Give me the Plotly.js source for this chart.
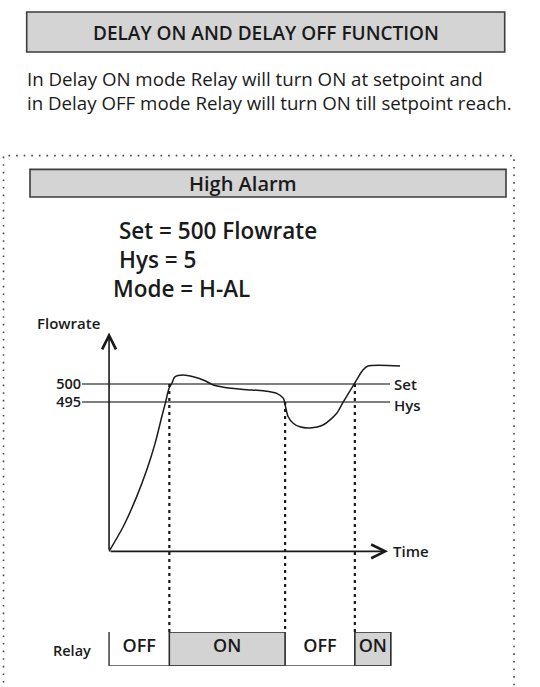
<!DOCTYPE html>
<html>
<head>
<meta charset="utf-8">
<script src="https://cdn.plot.ly/plotly-3.0.1.min.js"></script>
<style>
  html, body { margin: 0; padding: 0; background: #ffffff; }
  #chart { width: 540px; height: 687px; }
</style>
</head>
<body>
<div id="chart"></div>
<script>
// ---------------- data ----------------
const setpoint = 500;
const hysteresis = 5;
const tickValues = [500, 495];
const tickLabels = ['500', '495'];
const lineLabels = ['Set', 'Hys'];

// process value (flowrate) over time (arbitrary time units)
const curveTime = [0, 5.1, 9.9, 13.5, 16.5, 18.9, 20.3, 21.5, 22.5, 23.6, 26.6, 30.2, 34.4, 37.4, 41.0, 48.2, 55.3, 60.1, 62.5, 63.1, 64.2, 66.0, 68.4, 72.0, 76.7, 81.6, 83.8, 88.1, 91.0, 92.8, 104.3];
const curveFlow = [453.5, 460.4, 468.7, 476.1, 483.5, 490.9, 495.1, 498.8, 500.2, 502.0, 502.5, 502.0, 500.9, 499.7, 499.1, 498.5, 498.1, 497.4, 496.0, 494.2, 490.9, 489.1, 488.1, 487.8, 488.6, 491.9, 494.8, 500.3, 503.9, 505.0, 505.0];

// relay switching moments and states
const switchTimes = [21.6, 63.1, 88.1];
const switchLevels = [500, 495, 500];
const relayStart = [0, 21.6, 63.1, 88.1];
const relayEnd = [21.6, 63.1, 88.1, 101.0];
const relayStates = ['OFF', 'ON', 'OFF', 'ON'];

// ---------------- styling / geometry ----------------
const W = 540, H = 687;
const FONT = '"Open Sans", Roboto, "Liberation Sans", Arial, sans-serif';
const INK = '#1a1a1a';
const px = v => v / W;
const py = v => 1 - v / H;

const xRange = [-9.7, 105];
const yRange = [431.1, 515];
const originFlow = curveFlow[0];
const axisEndTime = 100;
const lineEndTime = 100.7;

const traces = [];

// Set and Hys lines
[setpoint, setpoint - hysteresis].forEach(v => {
  traces.push({
    type: 'scatter', mode: 'lines', xaxis: 'x', yaxis: 'y',
    x: [xRange[0], lineEndTime], y: [v, v],
    line: { color: '#555555', width: 1.6 }, hoverinfo: 'skip', showlegend: false
  });
});

// dotted switching lines
switchTimes.forEach((t, i) => {
  traces.push({
    type: 'scatter', mode: 'lines', xaxis: 'x', yaxis: 'y',
    x: [t, t], y: [switchLevels[i], yRange[0]],
    line: { color: INK, width: 2.2, dash: '3px,4px' }, hoverinfo: 'skip', showlegend: false
  });
});

// flowrate curve
traces.push({
  type: 'scatter', mode: 'lines', xaxis: 'x', yaxis: 'y',
  x: curveTime, y: curveFlow,
  line: { color: INK, width: 1.5, shape: 'spline', smoothing: 0.8 },
  hoverinfo: 'skip', showlegend: false
});

// relay ON boxes
const onIdx = relayStates.map((s, i) => s === 'ON' ? i : -1).filter(i => i >= 0);
traces.push({
  type: 'bar', xaxis: 'x', yaxis: 'y2',
  x: onIdx.map(i => (relayStart[i] + relayEnd[i]) / 2),
  width: onIdx.map(i => relayEnd[i] - relayStart[i]),
  y: onIdx.map(() => 1), base: onIdx.map(() => 0),
  marker: { color: '#d3d3d3', line: { color: '#2a2a2a', width: 1.6 } },
  cliponaxis: false, hoverinfo: 'skip', showlegend: false
});
// relay baseline and left edge
traces.push({
  type: 'scatter', mode: 'lines', xaxis: 'x', yaxis: 'y2',
  x: [relayStart[0], relayStart[0], relayEnd[relayEnd.length - 1]], y: [1, 0, 0],
  line: { color: '#4a4a4a', width: 1.6 }, cliponaxis: false, hoverinfo: 'skip', showlegend: false
});
// relay state labels
traces.push({
  type: 'scatter', mode: 'text', xaxis: 'x', yaxis: 'y2',
  x: relayStart.map((s, i) => (s + relayEnd[i]) / 2), y: relayStates.map(() => 0.55),
  text: relayStates, textposition: 'middle center',
  textfont: { family: FONT, size: 18, color: INK, weight: 600 },
  cliponaxis: false, hoverinfo: 'skip', showlegend: false
});

const ann = [];
function txt(text, x, y, size, anchor, weight, extra) {
  ann.push(Object.assign({
    text: text, xref: 'paper', yref: 'paper', x: px(x), y: py(y),
    xanchor: anchor, yanchor: 'middle', showarrow: false,
    font: { family: FONT, size: size, color: INK, weight: weight }
  }, extra || {}));
}
txt('DELAY ON AND DELAY OFF FUNCTION', 265.6, 33, 19, 'center', 600);
txt('In Delay ON mode Relay will turn ON at setpoint and', 25, 79, 18.7, 'left', 400);
txt('in Delay OFF mode Relay will turn ON till setpoint reach.', 25, 103, 18.7, 'left', 400);
txt('High Alarm', 242.5, 183.5, 20, 'center', 600);
txt('Set = ' + setpoint + ' Flowrate', 117, 230.5, 22.5, 'left', 600);
txt('Hys = ' + hysteresis, 117, 259.5, 22.5, 'left', 600);
txt('Mode = H-AL', 110.5, 288.5, 22.5, 'left', 600);
txt('Flowrate', 35, 323, 15, 'left', 600);
txt('Relay', 51, 650, 14.5, 'left', 600);

// axis arrows
ann.push({ text: '', xref: 'x', yref: 'y', axref: 'x', ayref: 'y',
  x: 0, y: 514.3, ax: 0, ay: originFlow, showarrow: true,
  arrowhead: 5, arrowsize: 1.7, arrowwidth: 1.6, arrowcolor: INK });
ann.push({ text: '', xref: 'x', yref: 'y', axref: 'x', ayref: 'y',
  x: axisEndTime, y: originFlow, ax: 0, ay: originFlow, showarrow: true,
  arrowhead: 5, arrowsize: 1.7, arrowwidth: 1.6, arrowcolor: INK });
// axis / line labels
ann.push({ text: 'Time', xref: 'x', yref: 'y', x: 100.9, y: originFlow, xanchor: 'left', yanchor: 'middle',
  showarrow: false, font: { family: FONT, size: 15, color: INK, weight: 600 } });
ann.push({ text: lineLabels[0], xref: 'x', yref: 'y', x: 101.3, y: setpoint, xanchor: 'left', yanchor: 'middle',
  showarrow: false, font: { family: FONT, size: 15, color: INK, weight: 600 } });
ann.push({ text: lineLabels[1], xref: 'x', yref: 'y', x: 101.3, y: setpoint - hysteresis, xanchor: 'left', yanchor: 'middle',
  yshift: -3, showarrow: false, font: { family: FONT, size: 15, color: INK, weight: 600 } });

const shapes = [
  { type: 'rect', xref: 'paper', yref: 'paper', x0: px(26.7), x1: px(504.7), y0: py(52), y1: py(12),
    fillcolor: '#d4d4d4', line: { color: '#3c3c3c', width: 1.6 }, layer: 'below' },
  { type: 'rect', xref: 'paper', yref: 'paper', x0: px(30), x1: px(506), y0: py(197), y1: py(169.4),
    fillcolor: '#d4d4d4', line: { color: '#3c3c3c', width: 1.6 }, layer: 'below' },
  { type: 'rect', xref: 'paper', yref: 'paper', x0: px(3.5), x1: px(514), y0: py(760), y1: py(155.6),
    fillcolor: 'rgba(0,0,0,0)', line: { color: '#444444', width: 1.6, dash: '1.6px,6px' }, layer: 'below' }
];

const layout = {
  width: W, height: H,
  margin: { l: 0, r: 0, t: 0, b: 0 },
  paper_bgcolor: '#ffffff', plot_bgcolor: 'rgba(0,0,0,0)',
  showlegend: false,
  font: { family: FONT, color: INK },
  xaxis: { domain: [px(82), px(402)], range: xRange, visible: false, fixedrange: true },
  yaxis: { domain: [py(632), py(330)], range: yRange, anchor: 'x',
    showgrid: false, zeroline: false, showline: false, ticks: '',
    tickmode: 'array', tickvals: tickValues, ticktext: tickLabels,
    tickfont: { family: FONT, size: 14.5, color: INK, weight: 600 }, fixedrange: true },
  yaxis2: { domain: [py(666), py(632)], range: [0, 1], anchor: 'x', visible: false, fixedrange: true },
  annotations: ann,
  shapes: shapes
};

Plotly.newPlot('chart', traces, layout, { staticPlot: true, displayModeBar: false });
</script>
</body>
</html>
